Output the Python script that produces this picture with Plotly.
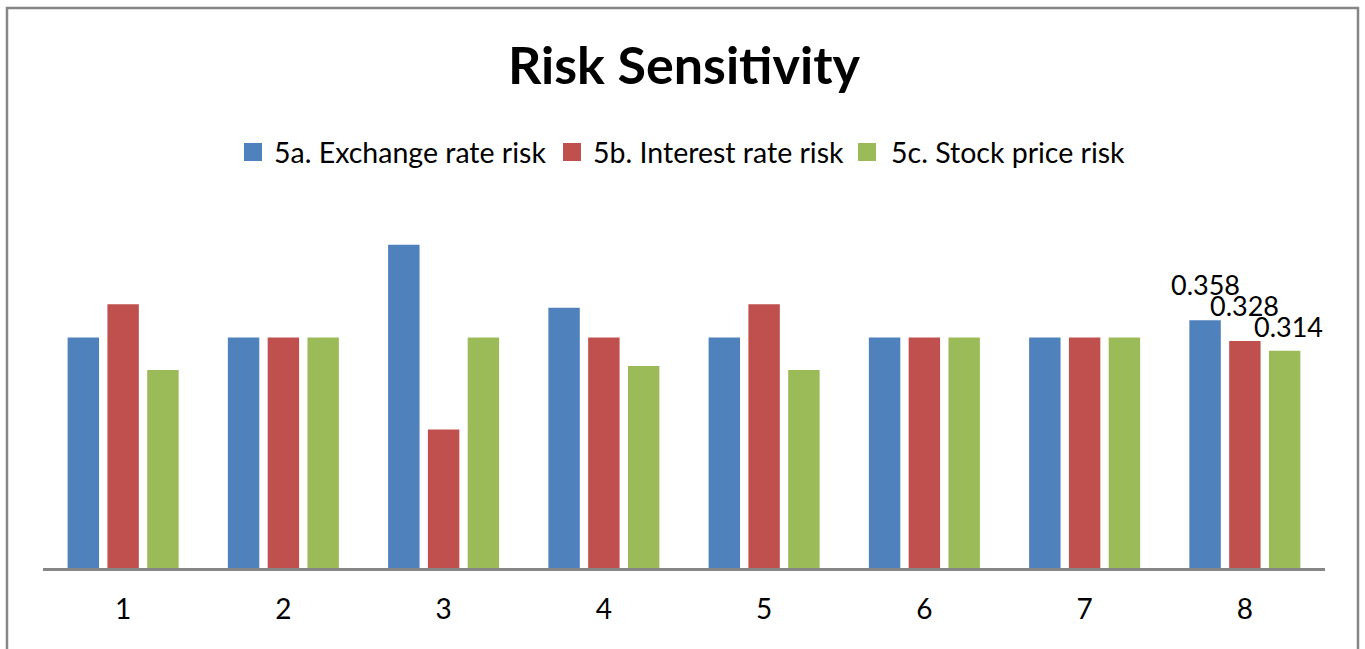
import plotly.graph_objects as go

# Survey items and their mean sensitivity scores
categories = [1, 2, 3, 4, 5, 6, 7, 8]
series_names = ["5a. Exchange rate risk", "5b. Interest rate risk", "5c. Stock price risk"]
exchange_rate = [0.333, 0.333, 0.467, 0.376, 0.333, 0.333, 0.333, 0.358]
interest_rate = [0.381, 0.333, 0.200, 0.333, 0.381, 0.333, 0.333, 0.328]
stock_price = [0.286, 0.333, 0.333, 0.292, 0.286, 0.333, 0.333, 0.314]
colors = ["#4F81BD", "#C0504D", "#9BBB59"]

W, H = 1365, 649
L, R, T, B = 43, 40, 200, 81
plot_w = W - L - R
plot_h = H - T - B
px_per_unit = 692.0
y_top = plot_h / px_per_unit

FONT = "Lato, 'Open Sans', sans-serif"

fig = go.Figure()
for name, vals, col in zip(series_names, [exchange_rate, interest_rate, stock_price], colors):
    fig.add_trace(go.Bar(
        x=categories, y=vals, name=name,
        marker=dict(color=col, line=dict(width=0)),
        showlegend=False,
    ))

# value labels on the last group
slot = plot_w / 8 * (1 - 0.255) / 3
label_shift = [36, 36, 24]
for i, vals in enumerate([exchange_rate, interest_rate, stock_price]):
    v = vals[-1]
    fig.add_annotation(
        x=categories[-1], y=v, text=f"{v:.3f}", showarrow=False,
        xshift=(i - 1) * slot + (4 if i == 2 else 0), yshift=label_shift[i],
        font=dict(family=FONT, size=27, color="#000000"),
        xanchor="center", yanchor="middle",
    )

# legend built from squares and text
def px_to_paper_x(px):
    return (px - L) / plot_w

def px_to_paper_y(py):
    return (H - B - py) / plot_h

legend_items = [(244, 272), (563, 591), (858, 889)]
for (sq_x, tx_x), name, col in zip(legend_items, series_names, colors):
    fig.add_shape(
        type="rect", xref="paper", yref="paper",
        x0=px_to_paper_x(sq_x), x1=px_to_paper_x(sq_x + 18),
        y0=px_to_paper_y(161), y1=px_to_paper_y(143),
        fillcolor=col, line=dict(width=0),
    )
    fig.add_annotation(
        xref="paper", yref="paper", x=px_to_paper_x(tx_x), y=px_to_paper_y(152),
        text=name, showarrow=False, xanchor="left", yanchor="middle",
        font=dict(family=FONT, size=28.5, color="#000000"),
    )

# chart frame
fig.add_shape(
    type="rect", xref="paper", yref="paper",
    x0=px_to_paper_x(7), x1=px_to_paper_x(1358),
    y0=px_to_paper_y(660), y1=px_to_paper_y(8),
    line=dict(color="#868686", width=2.5), fillcolor="rgba(0,0,0,0)",
)

fig.update_layout(
    width=W, height=H,
    margin=dict(l=L, r=R, t=T, b=B, pad=0),
    paper_bgcolor="white", plot_bgcolor="white",
    barmode="group", bargap=0.255, bargroupgap=0.21,
    title=dict(
        text="<b>Risk Sensitivity</b>", x=0.5, xref="paper", xanchor="center",
        y=1 - 66 / H, yref="container", yanchor="middle",
        font=dict(family=FONT, size=52, color="#000000"),
    ),
    xaxis=dict(
        range=[0.5, 8.5], tickvals=categories, ticktext=[str(c) for c in categories],
        showline=True, linecolor="#868686", linewidth=2.5, ticks="",
        showgrid=False, zeroline=False, ticklabelstandoff=15,
        tickfont=dict(family=FONT, size=28, color="#000000"),
    ),
    yaxis=dict(
        range=[0, y_top], visible=False, showgrid=False, zeroline=False,
    ),
)

fig.write_html("out.html")
